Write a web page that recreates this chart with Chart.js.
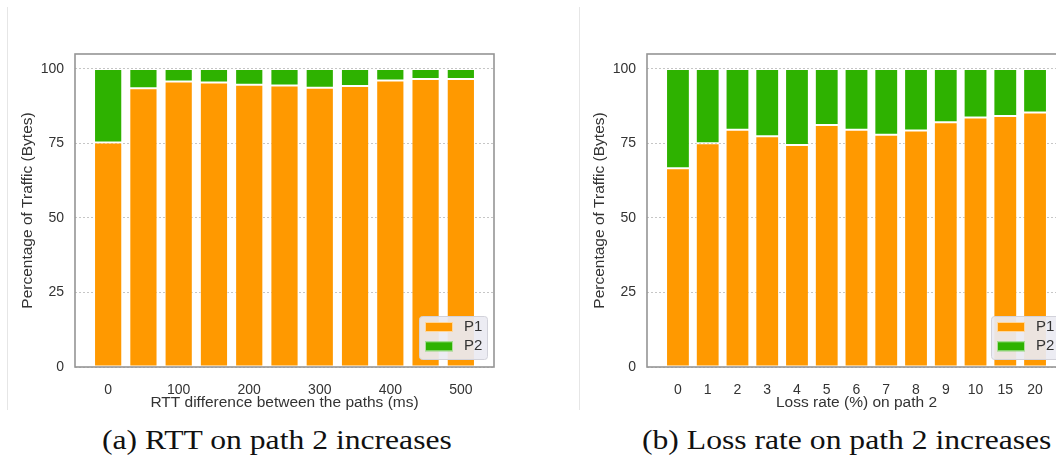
<!DOCTYPE html>
<html>
<head>
<meta charset="utf-8">
<title>Traffic split between paths</title>
<script src="https://cdn.jsdelivr.net/npm/chart.js@4.4.0/dist/chart.umd.min.js"></script>
<style>
  html, body { margin: 0; padding: 0; background: #fff; }
  #page { position: relative; width: 1056px; height: 460px; overflow: hidden; }
  .panel { position: absolute; top: 0; }
  .rule { position: absolute; top: 7px; height: 403px; border-left: 1px solid #e6e6e6; }
  .caption {
    position: absolute; top: 426px; font: 28px "Liberation Serif", "Times New Roman", serif;
    line-height: 1; color: #111; white-space: nowrap;
    transform: scaleX(1.13); transform-origin: 0 0;
  }
</style>
</head>
<body>
<div id="page">
  <div class="rule" style="left:7px"></div>
  <div class="rule" style="left:579px"></div>
  <canvas id="chart-rtt" class="panel" style="left:0" width="540" height="415"></canvas>
  <canvas id="chart-loss" class="panel" style="left:572px" width="540" height="415"></canvas>
  <div class="caption" style="left:102px">(a) RTT on path 2 increases</div>
  <div class="caption" style="left:642px">(b) Loss rate on path 2 increases</div>
</div>
<script>
// (a) RTT difference sweep
const rttMs = [0, 50, 100, 150, 200, 250, 300, 350, 400, 450, 500];
const rttTicks = [0, 100, 200, 300, 400, 500];
const rttP1 = [75.3, 93.5, 95.8, 95.4, 94.7, 94.4, 93.7, 94.3, 96.1, 96.6, 96.6];
const rttP2 = [24.7, 6.5, 4.2, 4.6, 5.3, 5.6, 6.3, 5.7, 3.9, 3.4, 3.4];

// (b) loss rate sweep
const lossLabels = ['0', '1', '2', '3', '4', '5', '6', '7', '8', '9', '10', '15', '20'];
const lossP1 = [66.7, 75.1, 79.6, 77.4, 74.5, 81.2, 79.6, 77.9, 79.3, 82.1, 83.7, 84.2, 85.4];
const lossP2 = [33.3, 24.9, 20.4, 22.6, 25.5, 18.8, 20.4, 22.1, 20.7, 17.9, 16.3, 15.8, 14.6];

const yTicks = [0, 25, 50, 75, 100];
const seriesNames = ['P1', 'P2'];
const seriesColors = ['#ff9900', '#2eb200'];

Chart.defaults.font.family = '"Liberation Sans", Arial, sans-serif';
Chart.defaults.color = '#333';

// grey box around the plot area
const framePlugin = {
  id: 'frame',
  afterDatasetsDraw(chart) {
    const { ctx, chartArea: { left, top, right, bottom } } = chart;
    ctx.save();
    ctx.strokeStyle = '#959595';
    ctx.lineWidth = 1.6;
    ctx.strokeRect(left, top, right - left, bottom - top);
    ctx.restore();
  }
};

// legend box in the lower right corner, inside the axes
const boxLegend = {
  id: 'boxLegend',
  afterDraw(chart) {
    const { ctx, chartArea: { right, bottom } } = chart;
    const x = right - 75, y = bottom - 51, w = 68, h = 43;
    ctx.save();
    ctx.fillStyle = 'rgba(234,234,242,0.92)';
    ctx.strokeStyle = '#d2d2da';
    ctx.lineWidth = 1;
    ctx.beginPath();
    ctx.roundRect(x + 0.5, y + 0.5, w, h, 3);
    ctx.fill();
    ctx.stroke();
    ctx.font = '15px "Liberation Sans", Arial, sans-serif';
    ctx.textBaseline = 'middle';
    chart.data.datasets.forEach((ds, i) => {
      const cy = y + 11 + i * 19.3;
      ctx.fillStyle = ds.backgroundColor;
      ctx.fillRect(x + 6, cy - 5, 28, 10);
      ctx.strokeStyle = 'rgba(255,255,255,0.6)';
      ctx.strokeRect(x + 6.5, cy - 4.5, 27, 9);
      ctx.fillStyle = '#333';
      ctx.fillText(ds.label, x + 45, cy);
    });
    ctx.restore();
  }
};

// matplotlib-like x limits: bars span +/-0.4 of a slot, plus 5% margin
function xLimits(first, step, count) {
  const extent = (count - 1) + 0.8;
  const pad = 0.4 + 0.05 * extent;
  return { min: first - pad * step, max: first + (count - 1 + pad) * step };
}

function renderStack(id, xs, p1, p2, step, tickValues, tickLabel, xTitle) {
  const lim = xLimits(xs[0], step, xs.length);
  const datasets = [p1, p2].map((vals, s) => ({
    label: seriesNames[s],
    data: vals.map((v, i) => ({ x: xs[i], y: v })),
    backgroundColor: seriesColors[s],
    borderColor: 'rgba(255,255,255,0.5)',
    borderWidth: 1,
    borderSkipped: false,
    barPercentage: 0.8,
    categoryPercentage: 1
  }));

  return new Chart(document.getElementById(id), {
    type: 'bar',
    data: { datasets },
    plugins: [framePlugin, boxLegend],
    options: {
      responsive: false,
      devicePixelRatio: 1,
      animation: false,
      layout: { padding: { top: 54, right: 46, left: 10, bottom: 0 } },
      plugins: { legend: { display: false }, tooltip: { enabled: false } },
      scales: {
        x: {
          type: 'linear',
          stacked: true,
          offset: false,
          min: lim.min,
          max: lim.max,
          grid: { display: false, offset: false },
          border: { display: false },
          afterBuildTicks: (s) => { s.ticks = tickValues.map(v => ({ value: v })); },
          afterFit: (s) => { s.height = 48; },
          ticks: {
            autoSkip: false,
            maxRotation: 0,
            padding: 7,
            font: { size: 14 },
            callback: tickLabel
          },
          title: {
            display: true,
            text: xTitle,
            font: { size: 15.5 },
            padding: { top: 0, bottom: 3 }
          }
        },
        y: {
          stacked: true,
          min: 0,
          max: 105,
          afterBuildTicks: (s) => { s.ticks = yTicks.map(v => ({ value: v })); },
          afterFit: (s) => { s.width = 65; },
          grid: { color: '#c6c6c6', lineWidth: 1, drawTicks: false },
          border: { display: false, dash: [2, 2] },
          ticks: { padding: 11, font: { size: 14 } },
          title: {
            display: true,
            text: 'Percentage of Traffic (Bytes)',
            font: { size: 15.5 },
            padding: { top: 8 }
          }
        }
      }
    }
  });
}

renderStack('chart-rtt', rttMs, rttP1, rttP2, 50, rttTicks,
  (v) => String(v), 'RTT difference between the paths (ms)');

renderStack('chart-loss', lossLabels.map((_, i) => i), lossP1, lossP2, 1,
  lossLabels.map((_, i) => i), (v) => lossLabels[v], 'Loss rate (%) on path 2');
</script>
</body>
</html>
